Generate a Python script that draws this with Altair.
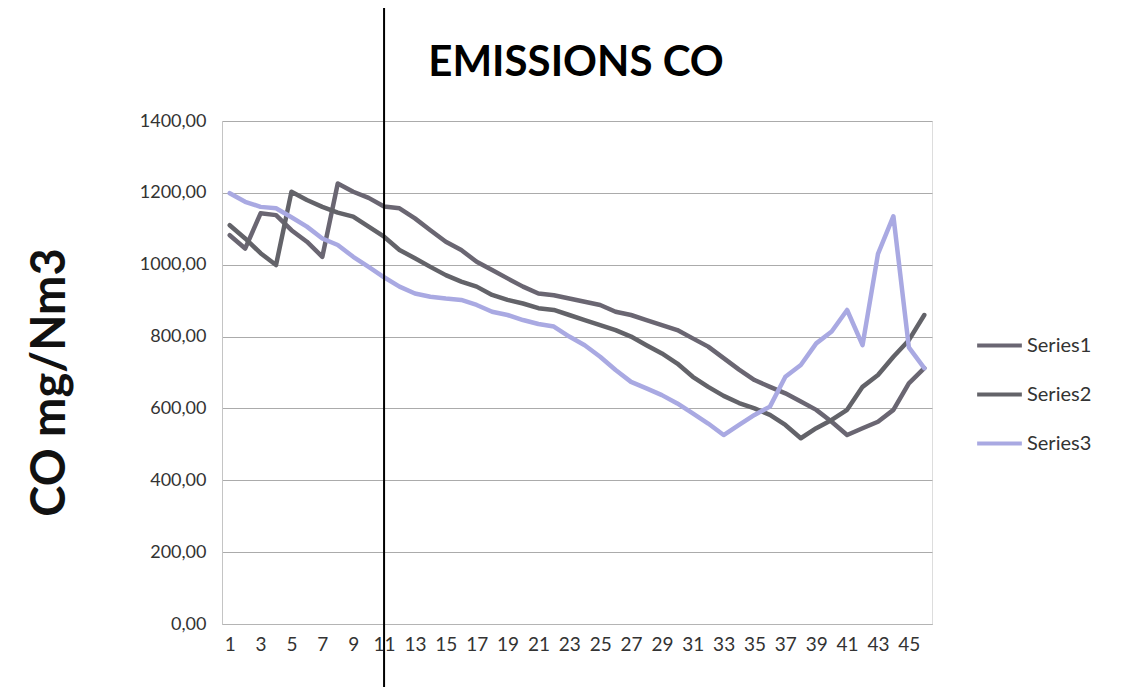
import altair as alt
import pandas as pd

categories = list(range(1, 47))
tick_labels_x = list(range(1, 46, 2))
y_ticks = [0, 200, 400, 600, 800, 1000, 1200, 1400]

series_names = ["Series1", "Series2", "Series3"]

series1 = [1082, 1045, 1143, 1138, 1096, 1064, 1022, 1226, 1203, 1186,
           1162, 1157, 1129, 1096, 1064, 1041, 1008, 985, 962, 939,
           920, 915, 906, 897, 888, 869, 860, 846, 832, 818,
           795, 772, 740, 708, 679, 660, 642, 619, 596, 563,
           526, 545, 563, 596, 670, 712]

series2 = [1110, 1073, 1032, 999, 1203, 1180, 1161, 1145, 1134, 1106,
           1078, 1041, 1018, 994, 971, 953, 939, 916, 902, 892,
           879, 874, 860, 846, 832, 818, 800, 776, 753, 725,
           688, 660, 635, 615, 600, 582, 554, 517, 545, 568,
           596, 660, 693, 744, 790, 860]

series3 = [1199, 1175, 1161, 1157, 1132, 1106, 1073, 1055, 1022, 994,
           965, 939, 920, 911, 906, 902, 888, 869, 860, 846,
           835, 828, 800, 776, 744, 707, 674, 656, 637, 614,
           586, 558, 526, 554, 582, 605, 688, 721, 781, 814,
           874, 776, 1030, 1135, 770, 712]

marker_category = [11]
chart_title = ["EMISSIONS CO"]

colors = ["#6a6672", "#636369", "#a9a9e2"]

rows = []
for name, vals in zip(series_names, [series1, series2, series3]):
    for c, v in zip(categories, vals):
        rows.append({"cat": c, "value": v, "series": name})
df = pd.DataFrame(rows)

FONT = "Lato"

x_scale = alt.Scale(type="point", padding=0.5, domain=categories)

lines = alt.Chart(df).mark_line(strokeWidth=4.5, strokeJoin="round", strokeCap="round").encode(
    x=alt.X("cat:O", scale=x_scale,
            axis=alt.Axis(values=tick_labels_x, labelAngle=0, ticks=False, grid=False,
                          domain=True, domainColor="#b4b4b4", labelFontSize=19,
                          labelFont=FONT, labelColor="#333333", labelPadding=11, title=None)),
    y=alt.Y("value:Q", scale=alt.Scale(domain=[0, 1400], nice=False, zero=True),
            axis=alt.Axis(values=y_ticks,
                          labelExpr="replace(format(datum.value, '.2f'), '.', ',')",
                          grid=True, gridColor="#ababab", gridWidth=1, ticks=False,
                          domain=True, domainColor="#c4c4c4",
                          labelFontSize=18, labelFont=FONT, labelColor="#333333",
                          labelPadding=16,
                          title="CO  mg/Nm3", titleFontSize=47, titleFont=FONT,
                          titleFontWeight="bold", titleColor="#111111",
                          titleAngle=-90, titleX=-172, titleY=261,
                          titleAlign="center", titleBaseline="middle")),
    color=alt.Color("series:N",
                    scale=alt.Scale(domain=series_names, range=colors),
                    legend=alt.Legend(orient="none", legendX=753, legendY=200, title=None,
                                      symbolType="stroke", symbolSize=2000,
                                      symbolStrokeWidth=4, labelFontSize=20,
                                      labelFont=FONT, labelColor="#333333",
                                      rowPadding=14, labelOffset=3)),
)

marker = alt.Chart(pd.DataFrame({"cat": marker_category})).mark_rule(
    color="black", strokeWidth=2
).encode(
    x=alt.X("cat:O", scale=x_scale),
    y=alt.value(-130),
    y2=alt.value(570),
)

title_text = alt.Chart(pd.DataFrame({"t": chart_title})).mark_text(
    font=FONT, fontSize=42, fontWeight="bold", color="#000000",
    align="center", baseline="alphabetic"
).encode(
    x=alt.value(354),
    y=alt.value(-45),
    text="t:N",
)

chart = alt.layer(lines, marker, title_text).properties(
    width=710,
    height=503,
    padding={"left": 214, "top": 113, "right": 180, "bottom": 63},
    autosize=alt.AutoSizeParams(type="none"),
).configure_view(stroke=None).configure(background="white")

chart.save("out.html", embed_options={"renderer": "svg", "actions": False})
